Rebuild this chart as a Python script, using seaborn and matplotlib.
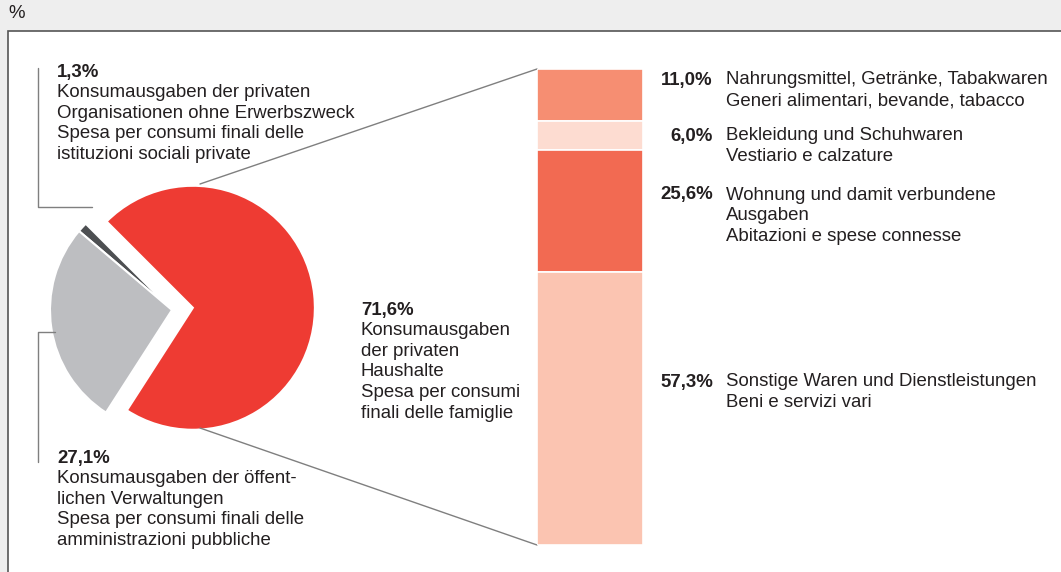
import matplotlib.pyplot as plt
import seaborn as sns
import numpy as np

# Pie: consumption by sector (percent)
pie_labels = ["Organisationen", "Verwaltungen", "Haushalte"]
pie_values = [1.3, 27.1, 71.6]
pie_colors = ["#4d4f52", "#bdbec1", "#ee3b33"]

# Breakdown of household consumption (percent)
bar_values = [11.0, 6.0, 25.6, 57.3]
bar_pct = ["11,0%", "6,0%", "25,6%", "57,3%"]
bar_texts = [
    "Nahrungsmittel, Getränke, Tabakwaren\nGeneri alimentari, bevande, tabacco",
    "Bekleidung und Schuhwaren\nVestiario e calzature",
    "Wohnung und damit verbundene\nAusgaben\nAbitazioni e spese connesse",
    "Sonstige Waren und Dienstleistungen\nBeni e servizi vari",
]
bar_colors = ["#f68e72", "#fddcd1", "#f26a52", "#fbc4b1"]

pie_pct = ["1,3%", "27,1%", "71,6%"]
pie_texts = [
    "Konsumausgaben der privaten\nOrganisationen ohne Erwerbszweck\n"
    "Spesa per consumi finali delle\nistituzioni sociali private",
    "Konsumausgaben der öffent-\nlichen Verwaltungen\n"
    "Spesa per consumi finali delle\namministrazioni pubbliche",
    "Konsumausgaben\nder privaten\nHaushalte\nSpesa per consumi\nfinali delle famiglie",
]

sns.set_theme(style="white")
plt.rcParams["font.family"] = ["Liberation Sans", "DejaVu Sans"]

W, H = 1061, 572
TXT = "#231f20"
LINE = "#7f7f7f"
FS = 13.4

fig = plt.figure(figsize=(W / 100, H / 100), dpi=100, facecolor="#eeeeee")
ax = fig.add_axes([0, 0, 1, 1])
ax.set_xlim(0, W)
ax.set_ylim(0, H)
ax.axis("off")


def Y(y):
    return H - y


# white panel
ax.add_patch(plt.Rectangle((8, Y(620)), 1100, 589, facecolor="white",
                           edgecolor="#555555", lw=1.2, zorder=0))
ax.text(8, Y(14), "%", fontsize=FS, color=TXT, va="center")

# pie
cx, cy, r = 172, Y(310), 122
ax.pie(pie_values, colors=pie_colors, startangle=135, counterclock=True,
       explode=[0, 0, 21], center=(cx, cy), radius=r,
       wedgeprops=dict(edgecolor="white", linewidth=1.5))
ax.set_xlim(0, W)
ax.set_ylim(0, H)
ax.set_aspect("auto")

# stacked bar
bx0, bx1, by0, by1 = 537, 643, 69, 545
bax = fig.add_axes([bx0 / W, Y(by1) / H, (bx1 - bx0) / W, (by1 - by0) / H])
total = sum(bar_values)
bottom = 0
for v, c in zip(bar_values, bar_colors):
    sns.barplot(x=[0], y=[v], bottom=bottom, color=c, width=1, ax=bax,
                edgecolor="white", linewidth=1.2, saturation=1)
    bottom += v
bax.set_xlim(-0.5, 0.5)
bax.set_ylim(total, 0)
bax.axis("off")

# connectors pie -> bar
ax.plot([200, bx0], [Y(184), Y(by0)], color=LINE, lw=1)
ax.plot([200, bx0], [Y(428), Y(by1)], color=LINE, lw=1)

# leader lines
ax.plot([38, 38, 92], [Y(68), Y(207), Y(207)], color=LINE, lw=1)
ax.plot([55, 38, 38], [Y(332), Y(332), Y(462)], color=LINE, lw=1)

# pie labels
LS = 20.6
pie_pos = [(57, 72), (57, 458), (361, 310)]
for (x, y), p, t in zip(pie_pos, pie_pct, pie_texts):
    ax.text(x, Y(y), p, fontsize=FS, fontweight="bold", color=TXT, va="center")
    for i, line in enumerate(t.split("\n")):
        ax.text(x, Y(y + LS * (i + 1)), line, fontsize=FS, color=TXT, va="center")

# bar labels
bar_y = [80, 136, 195, 382]
for y, p, t in zip(bar_y, bar_pct, bar_texts):
    ax.text(713, Y(y), p, fontsize=FS, fontweight="bold", color=TXT,
            va="center", ha="right")
    for i, line in enumerate(t.split("\n")):
        ax.text(726, Y(y + LS * i), line, fontsize=FS, color=TXT, va="center")

fig.savefig("out.png", dpi=100, facecolor=fig.get_facecolor())
